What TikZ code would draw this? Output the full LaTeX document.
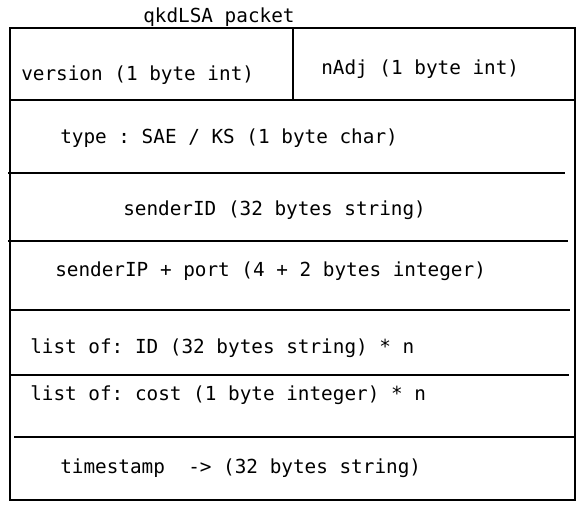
\documentclass[tikz,border=0pt]{standalone}
\usepackage{fontspec}
\newfontfamily\pktfont{DejaVu Sans Mono}
\usepackage{xcolor}

\tikzset{
    field/.style={anchor=base west, inner sep=0pt, font=\pktfont\fontsize{14.5pt}{17pt}\selectfont\frenchspacing},
    rule/.style={draw=black, line width=1.5pt},
}

\begin{document}
\begin{tikzpicture}[x=0.75pt,y=-0.75pt]
        \useasboundingbox (0,0) rectangle (586,512);
        % outer frame and header split
        \draw[rule] (10,28) rectangle (575,500);
        \draw[rule] (293,28) -- (293,100);
        \draw[rule] (10,100) -- (575,100);
        % field separators (hand drawn, uneven ends)
        \foreach \y/\a/\b in {173/8/565, 241/8/568, 310/10/570, 375/10/569, 437/14/575}{
            \draw[rule] (\a,\y) -- (\b,\y);
        }
        \node[field] (title) at (143,22) {qkdLSA packet};
        \node[field] (version) at (21,80) {version (1 byte int)};
        \node[field] (nadj) at (321,74) {nAdj (1 byte int)};
        \node[field] (type) at (60,143) {type : SAE / KS (1 byte char)};
        \node[field] (senderid) at (123,215) {senderID (32 bytes string)};
        \node[field] (senderip) at (55,276) {senderIP + port (4 + 2 bytes integer)};
        \node[field] (listid) at (30,353) {list of: ID (32 bytes string) * n};
        \node[field] (listcost) at (30,400) {list of: cost (1 byte integer) * n};
        \node[field] (stamp) at (60,473) {timestamp\ \ -> (32 bytes string)};
    \end{tikzpicture}
\end{document}
